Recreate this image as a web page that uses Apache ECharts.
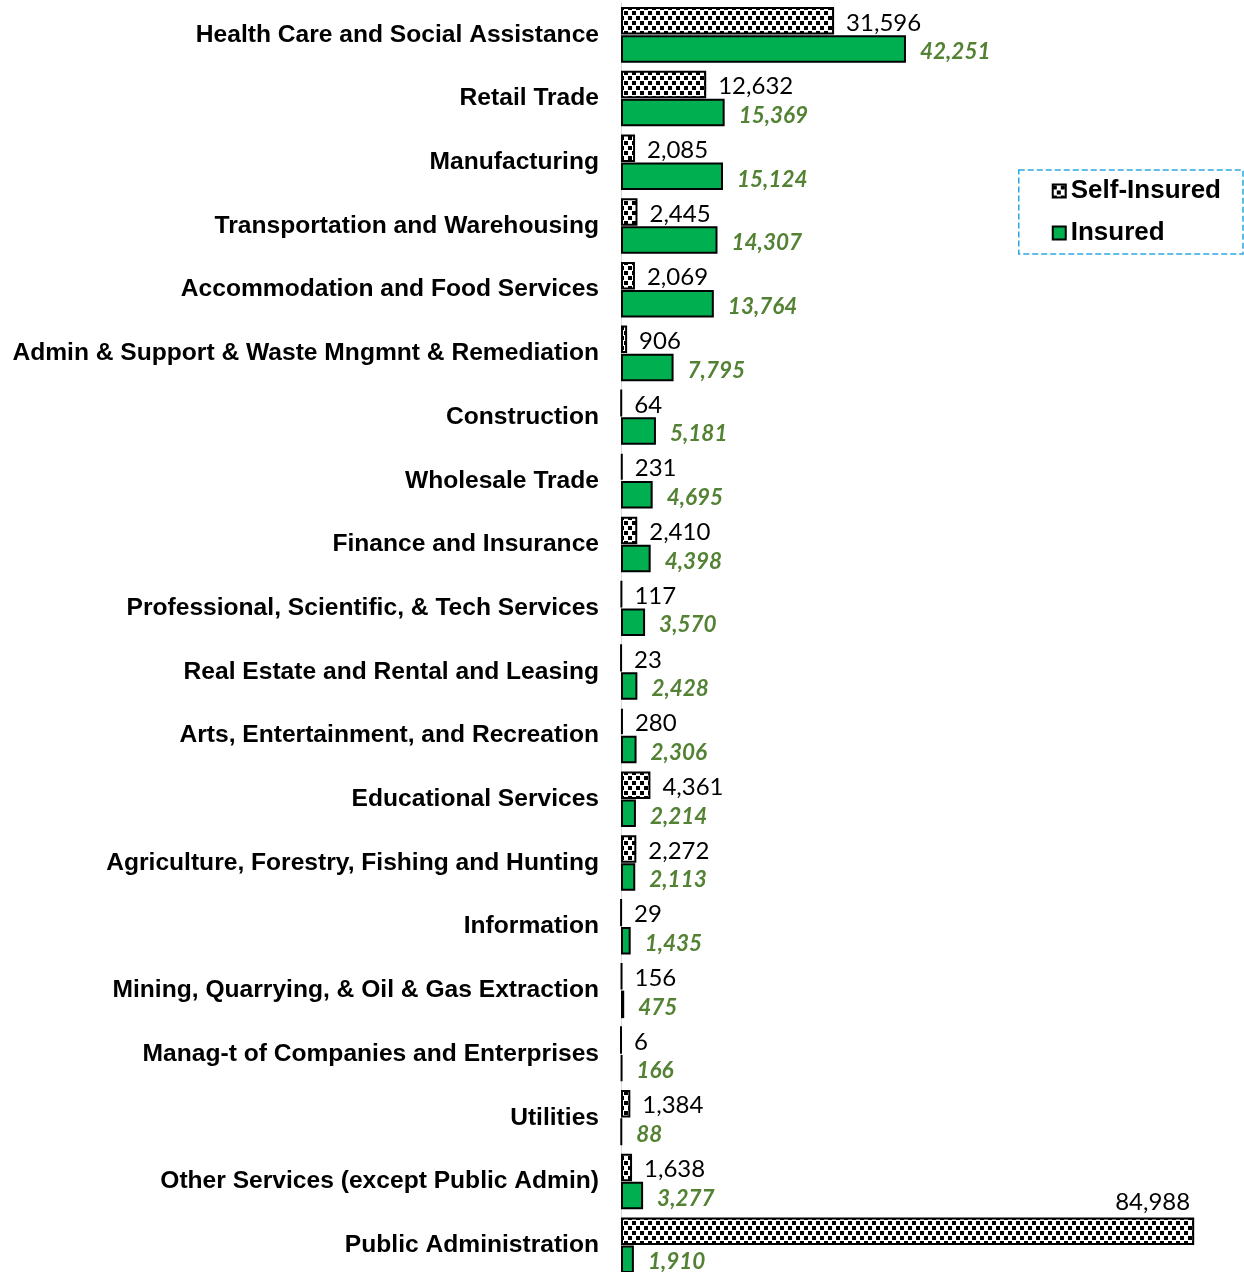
<!DOCTYPE html>
<html><head><meta charset="utf-8">
<script src="https://cdn.jsdelivr.net/npm/echarts@6/dist/echarts.min.js"></script>
<style>html,body{margin:0;padding:0;background:#fff;overflow:hidden}#c{width:1244px;height:1280px}</style>
</head><body><div id="c"></div>
<script>
const categories = [
  "Health Care and Social Assistance","Retail Trade","Manufacturing","Transportation and Warehousing",
  "Accommodation and Food Services","Admin & Support & Waste Mngmnt & Remediation","Construction",
  "Wholesale Trade","Finance and Insurance","Professional, Scientific, & Tech Services",
  "Real Estate and Rental and Leasing","Arts, Entertainment, and Recreation","Educational Services",
  "Agriculture, Forestry, Fishing and Hunting","Information","Mining, Quarrying, & Oil & Gas Extraction",
  "Manag-t of Companies and Enterprises","Utilities","Other Services (except Public Admin)","Public Administration"
];
const selfInsured = [31596,12632,2085,2445,2069,906,64,231,2410,117,23,280,4361,2272,29,156,6,1384,1638,84988];
const insured = [42251,15369,15124,14307,13764,7795,5181,4695,4398,3570,2428,2306,2214,2113,1435,475,166,88,3277,1910];

const pc = document.createElement('canvas');
pc.width = 8; pc.height = 10;
const g = pc.getContext('2d');
g.fillStyle = '#fff'; g.fillRect(0,0,8,10);
g.fillStyle = '#000';
g.fillRect(0,1,4,4); g.fillRect(4,6,4,4);

const fmt = v => v.toLocaleString('en-US');
const selfData = selfInsured.map((v,i) => i === selfInsured.length-1 ? {
  value: v,
  label: {position: ['100%','0%'], align: 'right', verticalAlign: 'bottom', offset: [-4,-3]}
} : v);

const chart = echarts.init(document.getElementById('c'));
chart.setOption({
  animation: false,
  grid: {left: 621, right: 16, top: 3, bottom: 3, containLabel: false},
  legend: {
    orient: 'vertical', right: 1, top: 170,
    borderColor: '#29a8e0', borderWidth: 1.5, borderType: 'dashed',
    padding: [7, 22, 7, 33], itemGap: 14, itemWidth: 13, itemHeight: 13,
    textStyle: {fontFamily: 'Liberation Sans', fontWeight: 'bold', fontSize: 26, color: '#000', lineHeight: 28, padding: [0,0,0,0]},
    data: [
      {name: 'Self-Insured', icon: 'rect', itemStyle: {borderColor: '#000', borderWidth: 2}},
      {name: 'Insured', icon: 'rect', itemStyle: {borderColor: '#000', borderWidth: 2}}
    ]
  },
  xAxis: {type: 'value', min: 0, max: 90000, show: false},
  yAxis: {
    type: 'category', data: categories, inverse: true,
    axisLine: {show: true, lineStyle: {color: '#d9d9d9', width: 1}},
    axisTick: {show: false},
    axisLabel: {fontFamily: 'Liberation Sans', fontWeight: 'bold', fontSize: 24.6, color: '#000', margin: 22, padding: [4,0,0,0]}
  },
  series: [
    {
      name: 'Self-Insured', type: 'bar', data: selfData, barWidth: 27.5, barGap: '2%',
      itemStyle: {color: {image: pc, repeat: 'repeat'}, borderColor: '#000', borderWidth: 2},
      label: {show: true, position: 'right', distance: 12, offset: [0,2], formatter: p => fmt(p.value),
        fontFamily: 'Lato', fontSize: 24, color: '#000'}
    },
    {
      name: 'Insured', type: 'bar', data: insured, barWidth: 27.5,
      itemStyle: {color: '#00b050', borderColor: '#000', borderWidth: 2},
      label: {show: true, position: 'right', distance: 14, offset: [0,3], formatter: p => fmt(p.value),
        fontFamily: 'Lato', fontSize: 22.5, fontWeight: 'bold', fontStyle: 'italic', color: '#548235'}
    }
  ]
});
</script></body></html>
